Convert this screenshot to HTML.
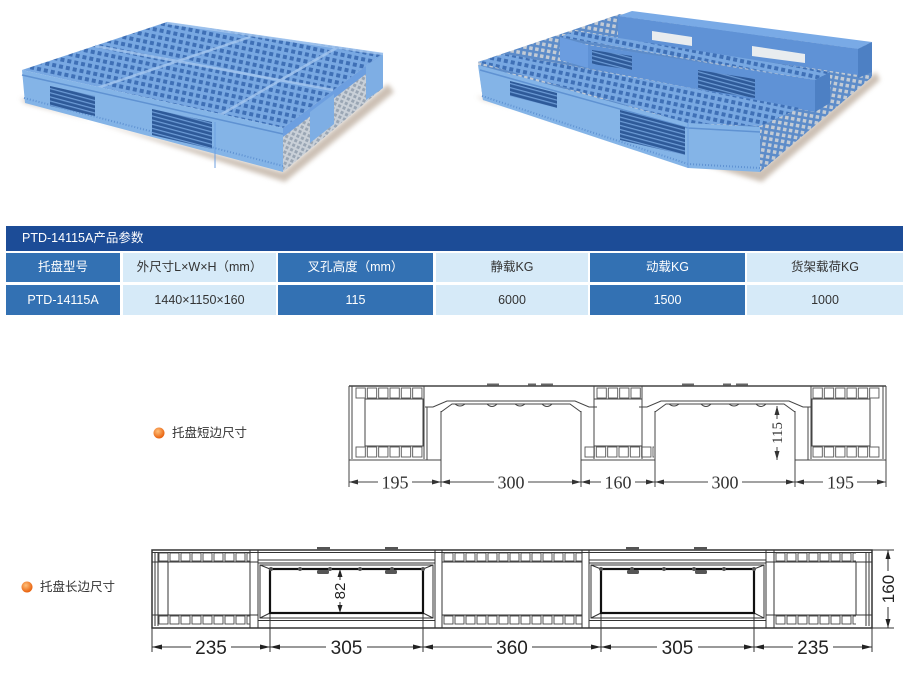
<!DOCTYPE html>
<html><head><meta charset="utf-8">
<style>
html,body{margin:0;padding:0;background:#fff;}
body{width:910px;height:681px;position:relative;overflow:hidden;font-family:"Liberation Sans","Noto Sans CJK SC",sans-serif;}
.c{position:absolute;text-align:center;font-size:12.5px;color:#333;}
.d{background:#3371b3;color:#fff;}
.l{background:#d6eaf8;}
.lab{position:absolute;font-size:12.5px;color:#333;line-height:16px;}
svg{position:absolute;left:0;top:0;}
</style></head><body>

<svg width="910" height="681" viewBox="0 0 910 681">
<defs>
<pattern id="g1" width="7" height="7" patternUnits="userSpaceOnUse" patternTransform="rotate(12)">
<rect width="7" height="7" fill="#78a8e2"/><rect x="1.5" y="1.5" width="4" height="4" fill="#3f70b6"/></pattern>
<pattern id="g2" width="6" height="6" patternUnits="userSpaceOnUse" patternTransform="rotate(10)">
<rect width="6" height="6" fill="#5d8cc9"/><rect x="1.5" y="1.5" width="3.5" height="3.5" fill="#c3cbd5"/></pattern>
<pattern id="gr" width="5" height="5" patternUnits="userSpaceOnUse" patternTransform="rotate(25)">
<rect width="5" height="5" fill="#c9d0d8"/><rect x="1" y="1" width="3" height="3" fill="#9aa6b4"/></pattern>
<pattern id="hole" width="6" height="4" patternUnits="userSpaceOnUse" patternTransform="rotate(15)">
<rect width="6" height="4" fill="#2e5a99"/><rect width="6" height="1.2" fill="#6c9bd6"/></pattern>
<pattern id="cs" width="11.33" height="12" patternUnits="userSpaceOnUse">
<rect x="1" y="1" width="9.3" height="10" fill="none" stroke="#555" stroke-width="0.9"/></pattern>
<pattern id="cl" width="11" height="10" patternUnits="userSpaceOnUse">
<rect x="1" y="1" width="9" height="8" fill="none" stroke="#444" stroke-width="0.9"/></pattern>
<filter id="bl"><feGaussianBlur stdDeviation="2.5"/></filter>
<radialGradient id="og" cx="40%" cy="35%" r="65%"><stop offset="0" stop-color="#ffc07a"/><stop offset="1" stop-color="#e8600c"/></radialGradient>
</defs>

<!-- Pallet 1 -->
<polygon points="20,98 285,182 394,92 388,84 283,172 25,103" fill="#a38d78" opacity="0.55" filter="url(#bl)"/>
<polygon points="283,128 383,53 383,88 283,172" fill="url(#gr)"/>
<polygon points="283,128 383,53 383,61 283,137" fill="#6d9fe0"/>
<polygon points="310,112 334,94 334,124 310,143" fill="#7eaee4"/>
<polygon points="366,66 383,54 383,88 366,100" fill="#7eaee4"/>
<polygon points="22,70 167,22 383,53 283,128" fill="url(#g1)"/>
<g stroke="#a6c8f0" stroke-width="2.5" opacity="0.8" fill="none">
<path d="M95,46 L333,90"/><path d="M167,23 L383,54"/>
<path d="M97,88 L250,37"/><path d="M215,118 L338,47"/>
</g>
<polygon points="22,70 283,128 283,172 25,103" fill="#84b4e7"/>
<path d="M22,75 L283,134" stroke="#5f92d2" stroke-width="1.5"/>
<path d="M24,98 L283,166" stroke="#5f92d2" stroke-width="2" stroke-dasharray="1 2"/>
<polygon points="50,86 95,96 95,116 50,106" fill="url(#hole)"/>
<polygon points="152,109 212,122 212,149 152,135" fill="url(#hole)"/>
<path d="M215,122 V168" stroke="#6d9fe0" stroke-width="1"/>

<!-- Pallet 2 -->
<polygon points="476,96 762,182 880,80 876,72 760,170 483,100" fill="#a38d78" opacity="0.55" filter="url(#bl)"/>
<polygon points="478,62 620,14 872,43 872,77 760,172 483,100" fill="url(#g2)"/>
<polygon points="618,16 632,11 872,42 858,49" fill="#79aae6"/>
<polygon points="618,16 858,49 858,75 618,40" fill="#5f92d6"/>
<polygon points="858,49 872,42 872,72 858,78" fill="#4d80c4"/>
<polygon points="652,31 692,37 692,46 652,40" fill="#e8ecef"/>
<polygon points="752,46 805,54 805,63 752,56" fill="#e8ecef"/>
<polygon points="560,37 575,31 830,72 815,80" fill="url(#g1)"/>
<polygon points="560,37 588,45 588,68 560,60" fill="#6b9de0"/>
<polygon points="588,45 815,80 815,112 588,68" fill="#5f92d6"/>
<polygon points="815,80 830,72 830,103 815,112" fill="#4d80c4"/>
<polygon points="592,50 632,56 632,70 592,64" fill="url(#hole)"/>
<polygon points="698,70 755,79 755,98 698,89" fill="url(#hole)"/>
<polygon points="478,62 505,54 800,108 760,126 688,123" fill="url(#g1)"/>
<polygon points="478,65 688,123 760,127 760,172 688,168 483,100" fill="#84b4e7"/>
<path d="M480,70 L688,128 L760,132" stroke="#5f92d2" stroke-width="1.5" fill="none"/>
<path d="M482,96 L688,164 L760,168" stroke="#5f92d2" stroke-width="2" stroke-dasharray="1 2" fill="none"/>
<polygon points="510,81 557,93 557,108 510,96" fill="url(#hole)"/>
<polygon points="620,110 685,127 685,155 620,140" fill="url(#hole)"/>
<path d="M688,123 V168" stroke="#6d9fe0"/>

<!-- Bullets -->
<circle cx="159" cy="433" r="5.5" fill="url(#og)"/>
<circle cx="27" cy="587" r="5.5" fill="url(#og)"/>

<!-- Short side drawing -->
<g stroke="#444" stroke-width="1" fill="none">
<path d="M349,386 H886" stroke-width="1.4"/>
<path d="M349,386 V487 M349,460 H441"/>
<path d="M352,386 V459 M424,386 V459 M427,407 V460"/>
<rect x="365" y="399" width="58" height="47"/>
<path d="M441,411 V487"/>
<path d="M425,407 L433,407 L447,401 L575,401 L589,407 L597,407"/>
<path d="M441,412 L452,404 L570,404 L581,412"/>
<path d="M455,404 q5,4 10,0 M487,404 q5,5 10,0 M515,404 q5,4 10,0 M542,404 q5,5 10,0"/>
<path d="M581,411 V487 M594,386 V459 M642,386 V459 M581,460 H655 M655,411 V487"/>
<rect x="594" y="399" width="48" height="47"/>
<path d="M639,407 L647,407 L661,401 L789,401 L803,407 L811,407"/>
<path d="M655,412 L666,404 L784,404 L795,412"/>
<path d="M669,404 q5,4 10,0 M701,404 q5,5 10,0 M729,404 q5,4 10,0 M756,404 q5,5 10,0"/>
<path d="M795,411 V487 M808,407 V460 M811,386 V459 M883,386 V459 M886,386 V487 M795,460 H886"/>
<rect x="812" y="399" width="58" height="47"/>
<path d="M349,482 H886"/>
<path d="M777,406 V460"/>
</g>
<g fill="#666">
<rect x="487" y="383.5" width="12" height="2"/><rect x="528" y="383.5" width="8" height="2"/><rect x="541" y="383.5" width="12" height="2"/>
<rect x="682" y="383.5" width="12" height="2"/><rect x="723" y="383.5" width="8" height="2"/><rect x="736" y="383.5" width="12" height="2"/>
</g>
<g transform="translate(355,387)"><rect width="68" height="12" fill="url(#cs)"/></g>
<g transform="translate(355,446)"><rect width="68" height="12" fill="url(#cs)"/></g>
<g transform="translate(596,387)"><rect width="45" height="12" fill="url(#cs)"/></g>
<g transform="translate(584,446)"><rect width="70" height="12" fill="url(#cs)"/></g>
<g transform="translate(812,387)"><rect width="68" height="12" fill="url(#cs)"/></g>
<g transform="translate(812,446)"><rect width="68" height="12" fill="url(#cs)"/></g>
<g fill="#333">
<polygon points="349,482 358,479.5 358,484.5"/><polygon points="441,482 432,479.5 432,484.5"/>
<polygon points="441,482 450,479.5 450,484.5"/><polygon points="581,482 572,479.5 572,484.5"/>
<polygon points="581,482 590,479.5 590,484.5"/><polygon points="655,482 646,479.5 646,484.5"/>
<polygon points="655,482 664,479.5 664,484.5"/><polygon points="795,482 786,479.5 786,484.5"/>
<polygon points="795,482 804,479.5 804,484.5"/><polygon points="886,482 877,479.5 877,484.5"/>
<polygon points="777,406 774.5,415 779.5,415"/><polygon points="777,460 774.5,451 779.5,451"/>
</g>
<g fill="#fff">
<rect x="378" y="474" width="34" height="16"/><rect x="494" y="474" width="34" height="16"/>
<rect x="601" y="474" width="34" height="16"/><rect x="708" y="474" width="34" height="16"/>
<rect x="823" y="474" width="34" height="16"/><rect x="770" y="419" width="14" height="28"/>
</g>
<g font-family="Liberation Serif, serif" font-size="18" fill="#333" text-anchor="middle">
<text x="395" y="488.5">195</text><text x="511" y="488.5">300</text><text x="618" y="488.5">160</text>
<text x="725" y="488.5">300</text><text x="840.5" y="488.5">195</text>
<text transform="translate(782,433) rotate(-90)" font-size="15">115</text>
</g>

<!-- Long side drawing -->
<g stroke="#333" stroke-width="1" fill="none">
<rect x="152" y="550" width="720" height="78" stroke-width="1.5"/>
<path d="M152,552.5 H872"/>
<path d="M258,560 H435 M258,563 H435 M589,560 H766 M589,563 H766"/>
<path d="M155,552 V626 M158,552 V626 M168,562 V615 M250,550 V628 M258,550 V628 M152,562 H258 M152,615 H258"/>
<path d="M260,565 H433 V618 H260 Z M258,620.5 H435"/>
<path d="M260,565 L270,569 M433,565 L423,569 M260,618 L270,613 M433,618 L423,613"/>
<path d="M435,550 V628 M442,550 V628 M582,550 V628 M589,550 V628 M442,562 H582 M442,615 H582"/>
<path d="M591,565 H764 V618 H591 Z M589,620.5 H766"/>
<path d="M591,565 L601,569 M764,565 L754,569 M591,618 L601,613 M764,618 L754,613"/>
<path d="M766,550 V628 M774,550 V628 M856,562 V615 M866,552 V626 M869,552 V626 M766,562 H872 M766,615 H872"/>
<path d="M152,628 V652 M270,613 V652 M423,613 V652 M601,613 V652 M754,613 V652 M872,628 V652"/>
<path d="M152,647 H872"/>
<path d="M340,571 V611"/>
<path d="M872,550 H894 M872,628 H894 M888,550 V628"/>
</g>
<g stroke="#111" stroke-width="2.2" fill="none">
<rect x="270" y="569" width="153" height="44"/><rect x="601" y="569" width="153" height="44"/>
</g>
<g fill="#555">
<circle cx="271" cy="569" r="2"/><circle cx="300" cy="569" r="2"/><circle cx="330" cy="569" r="2"/><circle cx="360" cy="569" r="2"/><circle cx="392" cy="569" r="2"/><circle cx="423" cy="569" r="2"/>
<circle cx="601" cy="569" r="2"/><circle cx="632" cy="569" r="2"/><circle cx="664" cy="569" r="2"/><circle cx="694" cy="569" r="2"/><circle cx="724" cy="569" r="2"/><circle cx="754" cy="569" r="2"/>
<rect x="317" y="570" width="12" height="4" rx="1.5"/><rect x="385" y="570" width="12" height="4" rx="1.5"/>
<rect x="627" y="570" width="12" height="4" rx="1.5"/><rect x="695" y="570" width="12" height="4" rx="1.5"/>
<rect x="317" y="547" width="13" height="3"/><rect x="385" y="547" width="13" height="3"/>
<rect x="626" y="547" width="13" height="3"/><rect x="694" y="547" width="13" height="3"/>
</g>
<g transform="translate(158,552)"><rect width="92" height="10" fill="url(#cl)"/></g>
<g transform="translate(158,615)"><rect width="92" height="10" fill="url(#cl)"/></g>
<g transform="translate(443,552)"><rect width="139" height="10" fill="url(#cl)"/></g>
<g transform="translate(443,615)"><rect width="139" height="10" fill="url(#cl)"/></g>
<g transform="translate(775,552)"><rect width="81" height="10" fill="url(#cl)"/></g>
<g transform="translate(775,615)"><rect width="81" height="10" fill="url(#cl)"/></g>
<g fill="#222">
<polygon points="152,647 162,644.5 162,649.5"/><polygon points="270,647 260,644.5 260,649.5"/>
<polygon points="270,647 280,644.5 280,649.5"/><polygon points="423,647 413,644.5 413,649.5"/>
<polygon points="423,647 433,644.5 433,649.5"/><polygon points="601,647 591,644.5 591,649.5"/>
<polygon points="601,647 611,644.5 611,649.5"/><polygon points="754,647 744,644.5 744,649.5"/>
<polygon points="754,647 764,644.5 764,649.5"/><polygon points="872,647 862,644.5 862,649.5"/>
<polygon points="340,569 337.5,577 342.5,577"/><polygon points="340,613 337.5,605 342.5,605"/>
<polygon points="888,550 885.5,559 890.5,559"/><polygon points="888,628 885.5,619 890.5,619"/>
</g>
<g fill="#fff">
<rect x="191" y="638" width="40" height="18"/><rect x="326" y="638" width="41" height="18"/>
<rect x="492" y="638" width="40" height="18"/><rect x="657" y="638" width="41" height="18"/>
<rect x="793" y="638" width="40" height="18"/><rect x="333" y="580" width="14" height="22"/>
<rect x="880" y="571" width="16" height="36"/>
</g>
<g font-family="Liberation Sans, sans-serif" font-size="19" fill="#222" text-anchor="middle">
<text x="211" y="654">235</text><text x="346.5" y="654">305</text><text x="512" y="654">360</text>
<text x="677.5" y="654">305</text><text x="813" y="654">235</text>
<text transform="translate(345,591) rotate(-90)" font-size="15">82</text>
<text transform="translate(894,589) rotate(-90)" font-size="17">160</text>
</g>
</svg>

<!-- Table -->
<div class="c" style="left:6px;top:226px;width:881px;height:25px;line-height:25px;background:#1c4c97;color:#fff;text-align:left;padding-left:16px;">PTD-14115A产品参数</div>

<div class="c d" style="left:6px;top:253px;width:114px;height:29px;line-height:29px;">托盘型号</div>
<div class="c l" style="left:123px;top:253px;width:153px;height:29px;line-height:29px;">外尺寸L×W×H（mm）</div>
<div class="c d" style="left:278px;top:253px;width:155px;height:29px;line-height:29px;">叉孔高度（mm）</div>
<div class="c l" style="left:436px;top:253px;width:152px;height:29px;line-height:29px;">静载KG</div>
<div class="c d" style="left:590px;top:253px;width:155px;height:29px;line-height:29px;">动载KG</div>
<div class="c l" style="left:747px;top:253px;width:156px;height:29px;line-height:29px;">货架载荷KG</div>

<div class="c d" style="left:6px;top:285px;width:114px;height:30px;line-height:30px;">PTD-14115A</div>
<div class="c l" style="left:123px;top:285px;width:153px;height:30px;line-height:30px;">1440×1150×160</div>
<div class="c d" style="left:278px;top:285px;width:155px;height:30px;line-height:30px;">115</div>
<div class="c l" style="left:436px;top:285px;width:152px;height:30px;line-height:30px;">6000</div>
<div class="c d" style="left:590px;top:285px;width:155px;height:30px;line-height:30px;">1500</div>
<div class="c l" style="left:747px;top:285px;width:156px;height:30px;line-height:30px;">1000</div>

<div class="lab" style="left:172px;top:425px;">托盘短边尺寸</div>
<div class="lab" style="left:40px;top:579px;">托盘长边尺寸</div>
</body></html>
